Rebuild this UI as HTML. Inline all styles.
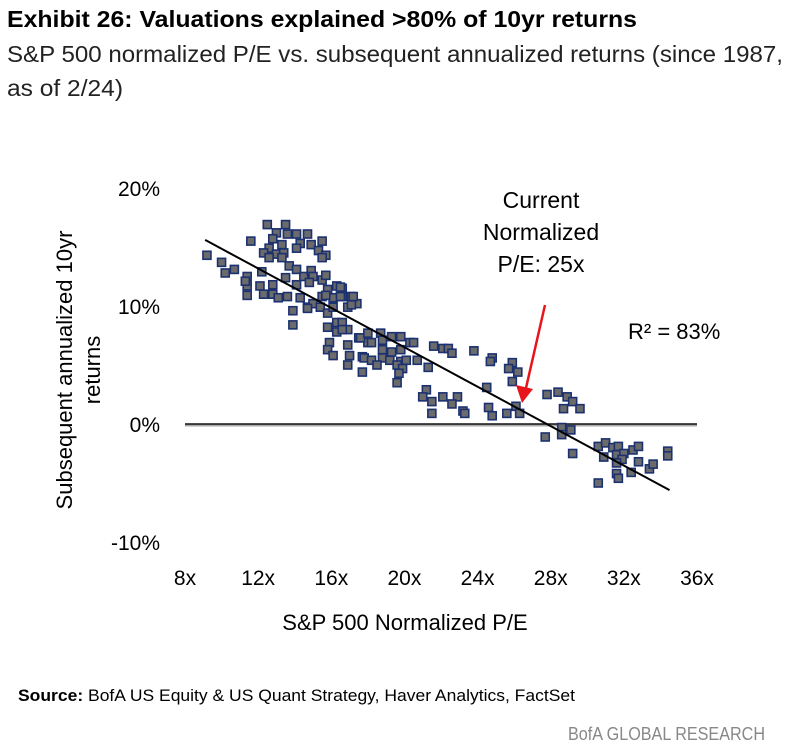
<!DOCTYPE html>
<html><head><meta charset="utf-8"><style>
body{margin:0;background:#fff;}
svg{display:block;font-family:"Liberation Sans Narrow","Liberation Sans",sans-serif;}
</style></head><body>
<svg id="chart" width="790" height="750" viewBox="0 0 790 750">
<text x="7" y="27" font-size="23" font-weight="bold" textLength="630" lengthAdjust="spacingAndGlyphs">Exhibit 26: Valuations explained &gt;80% of 10yr returns</text>
<text x="7" y="62" font-size="23" fill="#222" textLength="776" lengthAdjust="spacingAndGlyphs">S&amp;P 500 normalized P/E vs. subsequent annualized returns (since 1987,</text>
<text x="7" y="96" font-size="23" fill="#222" textLength="116" lengthAdjust="spacingAndGlyphs">as of 2/24)</text>
<g id="plot"></g>
<g transform="translate(72,370) rotate(-90)">
<text x="0" y="0" text-anchor="middle" font-size="22" font-family="Liberation Sans, sans-serif">Subsequent annualized 10yr</text>
<text x="0" y="28" text-anchor="middle" font-size="22" font-family="Liberation Sans, sans-serif">returns</text>
</g>
<text x="405" y="630" text-anchor="middle" font-size="22" font-family="Liberation Sans, sans-serif">S&amp;P 500 Normalized P/E</text>
<g font-family="Liberation Sans, sans-serif" font-size="23" text-anchor="middle">
<text x="541" y="208">Current</text>
<text x="541" y="240">Normalized</text>
<text x="541" y="272">P/E: 25x</text>
</g>
<line x1="545" y1="305" x2="526" y2="388" stroke="#e8141b" stroke-width="2.5"/>
<polygon points="522,403 516,385 533,389" fill="#e8141b"/>
<text x="628" y="339" font-size="22" font-family="Liberation Sans, sans-serif">R² = 83%</text>
<text x="18" y="701" font-size="17" textLength="557" lengthAdjust="spacingAndGlyphs"><tspan font-weight="bold">Source:</tspan> BofA US Equity &amp; US Quant Strategy, Haver Analytics, FactSet</text>
<text x="765" y="740" text-anchor="end" font-size="18" fill="#888" textLength="197" lengthAdjust="spacingAndGlyphs">BofA GLOBAL RESEARCH</text>
</svg>
<script>
const peValues=[9.2,10.0,10.2,10.7,11.6,11.4,11.4,11.4,11.3,12.5,13.5,13.0,12.8,13.6,14.1,14.7,14.3,13.3,12.6,12.3,13.0,13.4,14.1,14.9,15.5,15.3,15.7,15.5,12.6,13.3,13.7,12.2,12.1,12.3,12.8,12.8,13.1,13.6,13.5,14.1,14.5,14.9,15.0,14.8,15.5,15.7,14.1,14.3,13.9,13.9,14.7,15.0,15.4,15.5,15.8,16.3,16.6,16.1,16.6,17.1,17.4,16.9,15.8,16.1,15.8,16.3,16.6,16.9,17.5,18.0,15.9,15.8,16.1,16.9,17.0,16.9,17.7,17.7,16.3,16.6,15.7,16.5,17.2,17.1,16.5,14.7,17.6,18.0,18.2,18.7,18.8,19.3,19.8,20.3,20.5,18.8,19.3,19.8,17.8,18.2,18.8,19.2,19.8,20.1,20.7,21.3,19.6,19.9,18.5,19.7,19.6,21.6,22.1,22.4,22.6,23.8,24.8,24.7,25.9,25.7,26.2,25.9,24.5,21.2,21.0,21.5,22.1,22.9,22.6,23.2,23.3,21.5,24.6,24.8,25.6,26.1,26.3,27.8,28.4,28.9,29.2,28.7,29.6,28.6,29.1,28.6,27.7,29.2,30.6,31.0,30.9,31.4,31.7,31.6,32.0,31.9,32.5,32.8,31.6,32.4,32.8,33.4,33.6,34.4,34.4,31.6,31.7,30.6];
const returnValues=[14.3,13.7,12.8,13.1,15.5,12.5,11.7,10.9,12.1,16.9,16.9,16.2,15.7,16.1,16.1,16.1,15.3,15.2,14.9,14.5,14.4,14.5,14.9,15.2,15.5,14.7,14.3,14.1,14.1,14.1,13.4,12.9,11.7,11.0,11.8,11.0,10.7,10.8,12.4,13.1,12.5,13.0,12.5,12.0,12.2,12.6,11.8,10.7,9.6,8.4,9.9,10.2,9.9,10.8,11.4,11.7,11.5,10.7,10.8,10.8,10.2,9.9,9.4,9.9,8.2,8.6,8.6,8.0,7.3,6.9,6.9,6.3,5.8,6.7,5.8,5.0,5.7,4.4,7.8,8.0,10.9,10.8,10.8,10.1,11.6,9.8,7.3,7.7,6.9,7.7,7.1,7.4,7.4,6.9,6.9,6.3,6.1,6.3,5.6,5.4,5.6,5.4,5.3,5.4,5.4,4.8,5.0,4.7,5.0,4.3,3.5,6.6,6.4,6.4,6.0,6.2,5.6,5.3,5.2,4.7,4.4,3.6,3.1,2.9,2.3,1.9,2.3,2.3,1.7,1.1,0.9,0.9,1.4,0.7,0.9,1.5,0.9,2.5,2.7,2.3,1.9,1.3,1.3,-0.3,-0.5,-0.9,-1.1,-2.5,-1.9,-1.6,-2.8,-2.0,-1.9,-2.6,-2.5,-3.0,-2.2,-1.9,-3.3,-4.1,-3.2,-3.8,-3.4,-2.3,-2.7,-4.2,-4.6,-5.0];
const xTicks=[8,12,16,20,24,28,32,36];
const yTicks=[20,10,0,-10];
const trendIntercept=23.2, trendSlope=-0.835, trendStart=9.1, trendEnd=34.5;

const NS="http://www.w3.org/2000/svg";
const plot=document.getElementById('plot');
function xs(v){return 185+(v-8)*(512/28);}
function ys(v){return 424-v*11.8;}
function mk(tag,attrs){const e=document.createElementNS(NS,tag);for(const k in attrs)e.setAttribute(k,attrs[k]);plot.appendChild(e);return e;}

xTicks.forEach(t=>{
  const e=mk('text',{x:xs(t),y:585,'text-anchor':'middle','font-size':21,'font-family':'Liberation Sans, sans-serif'});
  e.textContent=t+'x';
  
  
});
yTicks.forEach(t=>{
  const e=mk('text',{x:160,y:ys(t)+8,'text-anchor':'end','font-size':21,'font-family':'Liberation Sans, sans-serif'});
  e.textContent=t+'%';
  
  
});
const zg=mk('line',{x1:xs(8),x2:xs(36),y1:ys(0)+1.5,y2:ys(0)+1.5,stroke:'#aaa','stroke-width':2});


const z=mk('line',{x1:xs(8),x2:xs(36),y1:ys(0),y2:ys(0),stroke:'#111','stroke-width':1.5});



peValues.forEach((p,i)=>{
  const r=mk('rect',{x:xs(p)-4,y:ys(returnValues[i])-4,width:8,height:8,fill:'#6b6b6b',stroke:'#1c3170','stroke-width':1.6});
  
  
});
const tl=mk('line',{x1:xs(trendStart),y1:ys(trendIntercept+trendSlope*trendStart),x2:xs(trendEnd),y2:ys(trendIntercept+trendSlope*trendEnd),stroke:'#000','stroke-width':2});


</script>
</body></html>
